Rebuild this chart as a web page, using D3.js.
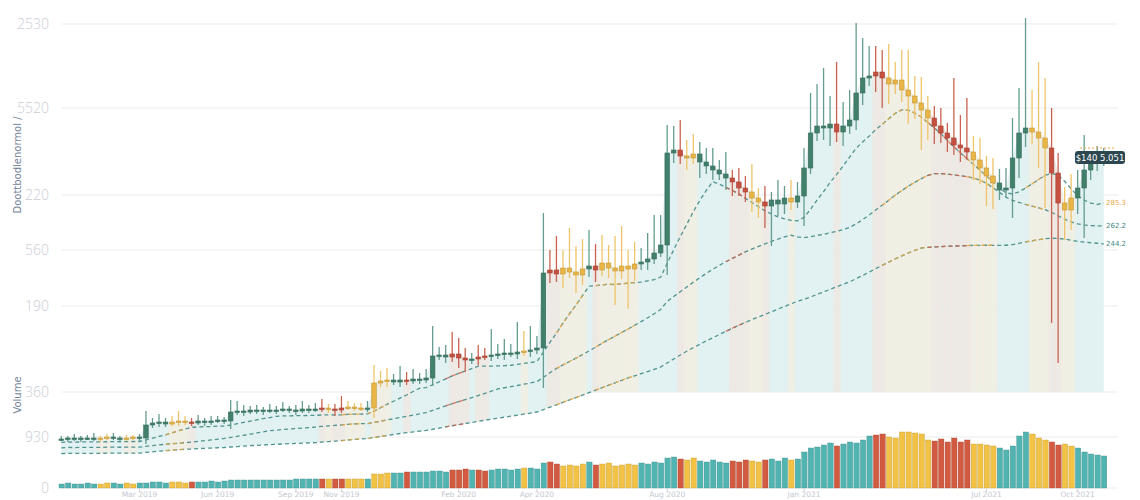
<!DOCTYPE html>
<html><head><meta charset="utf-8">
<script src="https://cdn.jsdelivr.net/npm/d3@7"></script>
<style>body{margin:0;background:#fff}svg{display:block}</style>
</head><body><svg id="c" width="1140" height="500"></svg>
<script>
const closes=[49,50,49,50,50,49,50,51,50,49,50,51,50,
63,65,66,64,66,67,66,65,67,66,67,68,67,
76,77,76,78,77,78,77,78,79,78,77,79,78,79,80,79,78,80,81,80,79,80,
105,107,108,106,108,107,109,108,110,
132,133,131,134,130,128,129,131,132,133,134,135,134,136,137,138,140,
215,218,214,220,216,213,219,222,218,225,220,217,222,219,224,226,229,235,243,
335,338,332,330,334,326,322,318,314,310,306,300,
296,290,286,282,288,284,290,286,292,
320,355,362,
360,364,356,362,368,395,410,
412,416,410,404,408,
398,392,385,378,370,362,355,350,
343,340,336,328,320,312,305,298,300,
330,355,360,356,
350,340,315,
285,278,290,300,
318,325,328,330];
const wickUp=[3,2,4,2,3,5,2,3,4,2,3,2,3,
14,5,8,4,6,10,5,4,6,3,5,4,3,
12,10,6,4,5,3,6,4,7,3,5,8,4,6,9,4,5,12,6,4,5,7,
18,10,12,6,14,8,10,6,9,
30,8,10,22,16,10,6,12,8,26,10,14,9,30,20,24,12,
60,20,34,18,40,26,30,36,22,28,18,32,40,16,22,14,26,38,30,
28,24,30,16,20,12,14,18,10,22,8,14,
12,28,10,16,8,20,12,18,14,
20,40,42,
58,28,62,24,30,70,40,
30,26,22,34,18,
30,40,20,26,14,12,18,10,
60,30,50,16,22,12,18,14,20,
40,45,110,38,
70,60,40,
20,16,24,18,
35,12,14,10];
const wickDown=[2,3,2,3,2,2,3,2,2,3,2,2,3,
6,3,4,3,2,4,3,3,2,4,3,2,3,
8,3,4,2,3,4,2,3,2,3,4,2,3,2,3,4,6,3,2,3,2,3,
10,4,6,3,5,4,3,4,3,
8,4,6,5,10,12,4,6,3,5,4,6,3,5,4,6,4,
40,10,8,14,6,18,10,8,12,6,10,34,8,40,12,6,8,5,4,
30,10,8,12,6,16,8,10,6,12,14,8,
10,14,16,22,40,12,10,8,6,
30,6,8,
12,18,10,14,8,10,12,
8,16,30,20,10,
12,28,16,40,22,18,10,14,
10,14,8,20,16,30,26,10,8,
30,20,14,12,
30,60,150,
160,30,20,16,
50,10,8,6];
const volumes=[4,5,4,4,5,4,4,5,5,4,5,4,5,
5,6,6,5,6,6,5,6,6,6,7,6,7,
8,8,8,8,8,8,8,8,8,8,9,9,9,9,9,9,9,9,9,9,9,9,
14,14,15,15,15,16,16,16,16,
17,17,16,18,18,19,18,18,17,18,19,19,18,19,20,20,19,
25,26,24,22,23,22,24,26,23,24,25,22,23,24,23,25,24,26,25,
30,31,29,28,30,27,26,28,26,25,27,26,
28,27,26,28,29,27,30,28,29,
36,40,41,
43,45,42,44,46,45,48,
52,53,54,51,50,
56,56,55,54,48,47,49,46,
50,46,48,44,44,43,42,40,38,
42,52,56,54,
50,48,46,
43,44,42,40,
36,34,33,32];
const categories=("ggggggyyggyyg"+"ggggyyyrggggg"+"ggggggggggggggryrryyyg"+"yyyggrggg"+
"gggrrrgrrgggggygg"+"grryyyygryyyyyygggg"+"ggryygggggrr"+"ryyrgggyg"+"ggg"+"ggrgggg"+
"grryy"+"yyyyyrrr"+"rrryyyygg"+"gggy"+"yyr"+"ryyg"+"gggg").split("");
const yTickValues=[464,380,293,238,182,96,51,0];
const yTickLabels=["2530","5520","220","560","190","360","930","0"];
const xTickIdx=[12,24,36,43,61,73,93,114,142,156];
const xTickLabels=["Mar 2019","Jun 2019","Sep 2019","Nov 2019","Feb 2020","Apr 2020","Aug 2020","Jan 2021","Jul 2021","Oct 2021"];
const maPeriods=[8,20,40];
const maFactors=[0.93,0.82,0.7];

const N=closes.length;
const svg=d3.select("#c");
const x=d3.scaleBand().domain(d3.range(N)).range([59,1106]).paddingInner(0.3);
const cx=i=>x(i)+x.bandwidth()/2;
const y=d3.scaleLinear().domain([0,464]).range([488,24]);
const v=d3.scaleLinear().domain([0,70]).range([488,418]);
const opens=closes.map((c,i)=>i?closes[i-1]:c);
const candleCol={g:"#41806b",r:"#c5503f",y:"#e9b646"};
const wickCol={g:"#649c8f",r:"#c96250",y:"#efc468"};
const volCol={g:"#52b4b1",r:"#d25a40",y:"#f2c244"};
const lineCol={g:"#3f8985",r:"#d0654e",y:"#e4a845"};

// grid
const grid=svg.append("g");
yTickValues.forEach((t,k)=>{
  grid.append("line").attr("x1",62).attr("x2",1118).attr("y1",y(t)).attr("y2",y(t)).attr("stroke","#ebebed").attr("stroke-width",1);
  grid.append("text").attr("x",49).attr("y",y(t)).attr("dy","0.35em").attr("text-anchor","end")
   .attr("font-family","Open Sans, sans-serif").attr("font-weight",300).attr("font-size",14).attr("fill","#c9cdd5").text(yTickLabels[k]);
});
// axis titles
svg.append("text").attr("transform","translate(21,165) rotate(-90)").attr("text-anchor","middle")
 .attr("font-family","DejaVu Sans, sans-serif").attr("font-size",10).attr("fill","#72839a").text("Doottbodlenormol /");
svg.append("text").attr("transform","translate(21,395) rotate(-90)").attr("text-anchor","middle")
 .attr("font-family","DejaVu Sans, sans-serif").attr("font-size",10).attr("fill","#72839a").text("Volume");

const mas=maPeriods.map((p,k)=>closes.map((c,i)=>d3.mean(closes.slice(Math.max(0,i-p+1),i+1))*maFactors[k]));

// area
const areaGen=d3.area().x((d,i)=>cx(i)).y0((d,i)=>y(Math.min(mas[2][i],96))).y1((d,i)=>y(Math.max(opens[i],closes[i])));
svg.append("clipPath").attr("id","ac").append("path").attr("d",areaGen(closes));
svg.append("path").attr("d",areaGen(closes)).attr("fill","#dff0ef").attr("opacity",0.9);
const tint=svg.append("g").attr("clip-path","url(#ac)");
categories.forEach((c,i)=>{ if(c!=="g") tint.append("rect").attr("x",x(i)-1).attr("width",x.step()+1).attr("y",24).attr("height",470)
  .attr("fill",c==="r"?"#f8e4dc":"#fbeedc").attr("opacity",0.5);});

// MA lines
mas.forEach((m,k)=>{
  const lg=d3.line().x(d=>cx(d)).y(d=>y(m[d]));
  svg.append("path").attr("d",lg(d3.range(N))).attr("fill","none").attr("stroke",lineCol.g).attr("stroke-width",1.3).attr("stroke-dasharray","4,3").attr("opacity",0.9);
  let s=0;
  for(let i=1;i<=N;i++){
    if(i===N||categories[i]!==categories[s]){
      if(categories[s]!=="g" && (i-s)>=3){
        const idx=d3.range(Math.max(0,s-1),i);
        svg.append("path").attr("d",lg(idx)).attr("fill","none").attr("stroke",lineCol[categories[s]]).attr("stroke-width",1.3).attr("stroke-dasharray","4,3").attr("opacity",0.85);
      }
      s=i;
    }
  }
});

// volume
svg.append("g").selectAll("rect").data(volumes).join("rect")
 .attr("x",(d,i)=>x(i)).attr("width",x.bandwidth()+0.8).attr("y",d=>v(d)).attr("height",d=>v(0)-v(d))
 .attr("fill",(d,i)=>volCol[categories[i]]).attr("stroke",(d,i)=>d3.color(volCol[categories[i]]).darker(0.6)).attr("stroke-width",0.4);

// candles
const cg=svg.append("g");
closes.forEach((c,i)=>{
  const o=opens[i],hi=Math.max(o,c)+wickUp[i],lo=Math.min(o,c)-wickDown[i],cat=categories[i];
  cg.append("line").attr("x1",cx(i)).attr("x2",cx(i)).attr("y1",y(hi)).attr("y2",y(lo)).attr("stroke",wickCol[cat]).attr("stroke-width",1.3);
  const top=y(Math.max(o,c)),h=Math.max(1.5,Math.abs(y(o)-y(c)));
  cg.append("rect").attr("x",x(i)).attr("width",x.bandwidth()).attr("y",top).attr("height",h)
   .attr("fill",candleCol[cat]).attr("stroke",d3.color(candleCol[cat]).darker(0.5)).attr("stroke-width",0.6);
});

// right labels
const last=N-1;
const lbl=svg.append("g").attr("font-family","DejaVu Sans, sans-serif");
lbl.append("rect").attr("x",1075).attr("y",y(closes[last])-7).attr("width",50).attr("height",13).attr("rx",3).attr("fill","#2d4750");
lbl.append("text").attr("x",1100).attr("y",y(closes[last])).attr("dy","0.35em").attr("text-anchor","middle").attr("font-size",8.5).attr("fill","#fff").text("$140 5.051");
lbl.append("line").attr("x1",1080).attr("x2",1115).attr("y1",y(closes[last])-10).attr("y2",y(closes[last])-10).attr("stroke","#e4a845").attr("stroke-dasharray","2,2");
mas.forEach((m,k)=>{
  lbl.append("text").attr("x",1106).attr("y",y(m[last])).attr("dy","0.35em").attr("font-size",7).attr("fill",k===0?"#e4a845":lineCol.g).text(d3.format(".1f")(m[last]));
});

// x axis
const xa=svg.append("g").attr("font-family","DejaVu Sans, sans-serif");
xTickIdx.forEach((t,k)=>{
  xa.append("line").attr("x1",cx(t)).attr("x2",cx(t)).attr("y1",489).attr("y2",492).attr("stroke","#cfd3da");
  xa.append("text").attr("x",cx(t)).attr("y",497).attr("text-anchor","middle").attr("font-size",7.5).attr("fill","#c3c7cf").text(xTickLabels[k]);
});
</script></body></html>
